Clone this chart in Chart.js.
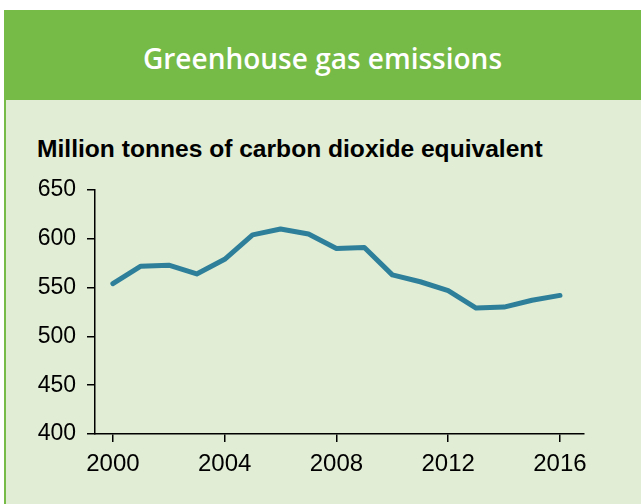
<!DOCTYPE html>
<html>
<head>
<meta charset="utf-8">
<script src="https://cdn.jsdelivr.net/npm/chart.js@4/dist/chart.umd.min.js"></script>
<style>
  html, body { margin: 0; padding: 0; background: #fff; }
  body { width: 641px; height: 504px; position: relative; overflow: hidden; }
  .header {
    position: absolute; left: 4px; top: 10px; width: 637px; height: 90px;
    background: #76ba47;
    color: #fff; font-family: "Open Sans", sans-serif; font-weight: 600;
    font-size: 28px; text-align: center; line-height: 96px;
  }
  .panel {
    position: absolute; left: 4px; top: 100px; width: 637px; height: 404px;
    background: #e1edd5; border-left: 2px solid #76ba47; box-sizing: border-box;
  }
  .subtitle {
    position: absolute; left: 37px; top: 135px;
    font-family: "Liberation Sans", Arial, sans-serif; font-weight: bold;
    font-size: 24.6px; color: #000; white-space: nowrap;
  }
  #chart { position: absolute; left: 0; top: 0; }
</style>
</head>
<body>
<div class="header">Greenhouse gas emissions</div>
<div class="panel"></div>
<div class="subtitle">Million tonnes of carbon dioxide equivalent</div>
<canvas id="chart" width="641" height="504"></canvas>
<script>
// --- DATA ---
const years = [2000, 2001, 2002, 2003, 2004, 2005, 2006, 2007, 2008,
               2009, 2010, 2011, 2012, 2013, 2014, 2015, 2016];
const emissions = [554, 572, 573, 564, 579, 604, 610, 605, 590,
                   591, 563, 556, 547, 529, 530, 537, 542];
const xTicks = [2000, 2004, 2008, 2012, 2016];
const yTicks = [400, 450, 500, 550, 600, 650];

const fontFamily = '"Liberation Sans", Arial, sans-serif';

new Chart(document.getElementById('chart'), {
  type: 'line',
  data: {
    datasets: [{
      data: years.map((y, i) => ({ x: y, y: emissions[i] })),
      borderColor: '#2d7f9a',
      borderWidth: 5,
      pointRadius: 0,
      tension: 0,
      borderCapStyle: 'round',
      borderJoinStyle: 'round'
    }]
  },
  options: {
    responsive: false,
    animation: false,
    layout: { padding: { left: 0, top: 190, right: 57, bottom: 0 } },
    plugins: { legend: { display: false }, tooltip: { enabled: false } },
    scales: {
      x: {
        type: 'linear',
        min: 1999.36,
        max: 2016.86,
        afterBuildTicks: (scale) => { scale.ticks = xTicks.map(v => ({ value: v })); },
        afterFit: (scale) => { scale.height = 70; },
        grid: { drawOnChartArea: false, drawTicks: true, tickLength: 8, color: '#000', lineWidth: 1.5 },
        border: { display: true, color: '#000', width: 1.5 },
        ticks: { color: '#000', font: { family: fontFamily, size: 24 }, padding: 8, maxRotation: 0, callback: v => String(v) }
      },
      y: {
        min: 400,
        max: 650,
        afterBuildTicks: (scale) => { scale.ticks = yTicks.map(v => ({ value: v })); },
        afterFit: (scale) => { scale.width = 95; },
        grid: { drawOnChartArea: false, drawTicks: true, tickLength: 8, color: '#000', lineWidth: 1.5 },
        border: { display: true, color: '#000', width: 1.5 },
        ticks: { color: '#000', font: { family: fontFamily, size: 23 }, padding: 11 }
      }
    }
  }
});
</script>
</body>
</html>
